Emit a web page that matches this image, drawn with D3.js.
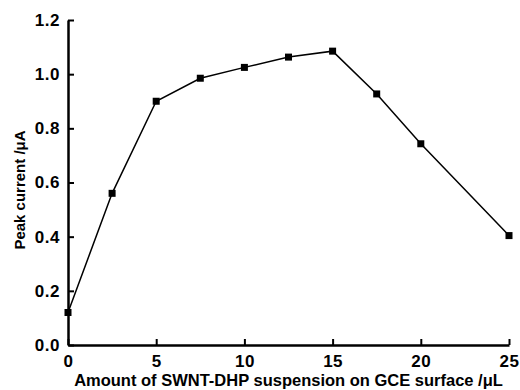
<!DOCTYPE html>
<html>
<head>
<meta charset="utf-8">
<script src="https://cdn.jsdelivr.net/npm/d3@7"></script>
<style>
  body { margin: 0; background: #fff; }
  text { font-family: "Liberation Sans", Arial, sans-serif; font-weight: bold; fill: #000; }
</style>
</head>
<body>
<div id="chart"></div>
<script>
// amount of suspension (uL) vs peak current (uA)
const amounts = [0, 2.5, 5, 7.5, 10, 12.5, 15, 17.5, 20, 25];
const currents = [0.12, 0.56, 0.90, 0.985, 1.025, 1.063, 1.085, 0.927, 0.743, 0.404];
const xTicks = [0, 5, 10, 15, 20, 25];
const yTicks = [0, 0.2, 0.4, 0.6, 0.8, 1.0, 1.2];

const W = 520, H = 390;
const margin = { top: 20, right: 11, bottom: 45, left: 68 };
const width = W - margin.left - margin.right;
const height = H - margin.top - margin.bottom;

const svg = d3.select("#chart").append("svg")
    .attr("width", W).attr("height", H)
    .append("g")
    .attr("transform", `translate(${margin.left},${margin.top})`);

const x = d3.scaleLinear().domain([0, 25]).range([0, width]);
const y = d3.scaleLinear().domain([0, 1.2]).range([height, 0]);

// axes, ticks pointing inward
const xAxis = svg.append("g")
    .attr("transform", `translate(0,${height})`)
    .call(d3.axisBottom(x).tickValues(xTicks).tickSize(-6).tickPadding(10).tickSizeOuter(0));
const yAxis = svg.append("g")
    .call(d3.axisLeft(y).tickValues(yTicks).tickFormat(d3.format(".1f")).tickSize(-6).tickPadding(8).tickSizeOuter(0));

[xAxis, yAxis].forEach(a => {
    a.select(".domain").attr("stroke", "#000").attr("stroke-width", 2.5);
    a.selectAll(".tick line").attr("stroke", "#000").attr("stroke-width", 2);
    a.selectAll(".tick text")
        .style("font-size", "17px")
        .style("letter-spacing", "0.5px")
        .attr("fill", "#000");
});

// axis titles
svg.append("text")
    .attr("x", width / 2)
    .attr("y", height + 41)
    .attr("text-anchor", "middle")
    .style("font-size", "16.5px")
    .text("Amount of SWNT-DHP suspension on GCE surface /\u03bcL");

svg.append("text")
    .attr("transform", "rotate(-90)")
    .attr("x", -170)
    .attr("y", -margin.left + 25)
    .attr("text-anchor", "middle")
    .style("font-size", "15px")
    .text("Peak current /\u03bcA");

// line + square markers
const pts = amounts.map((a, i) => [a, currents[i]]);
svg.append("path")
    .datum(pts)
    .attr("fill", "none")
    .attr("stroke", "#000")
    .attr("stroke-width", 1.5)
    .attr("d", d3.line().x(d => x(d[0])).y(d => y(d[1])));

svg.selectAll(".pt")
    .data(pts)
    .join("rect")
    .attr("class", "pt")
    .attr("x", d => x(d[0]) - 3.5)
    .attr("y", d => y(d[1]) - 3.5)
    .attr("width", 7)
    .attr("height", 7)
    .attr("fill", "#000");
</script>
</body>
</html>
